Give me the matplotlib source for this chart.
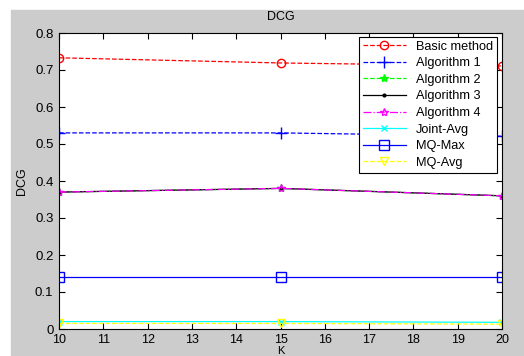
import matplotlib.pyplot as plt
from matplotlib.patches import Rectangle

plt.rcParams['font.family'] = ['Liberation Sans', 'DejaVu Sans']

k = [10, 15, 20]
basic = [0.733, 0.719, 0.711]
alg1 = [0.530, 0.530, 0.521]
alg2 = [0.370, 0.380, 0.360]
alg3 = [0.370, 0.380, 0.360]
alg4 = [0.370, 0.380, 0.360]
joint_avg = [0.020, 0.020, 0.018]
mq_max = [0.140, 0.140, 0.140]
mq_avg = [0.015, 0.015, 0.013]

fig = plt.figure(figsize=(5.24, 3.56), dpi=100, facecolor='white')
# grey matlab-like background
fig.patches.append(Rectangle((11 / 524, 0), 1, (356 - 10) / 356,
                             transform=fig.transFigure, color='#cccccc', zorder=-1))
ax = fig.add_axes([59 / 524, 27 / 356, 443 / 524, 296 / 356])

ax.plot(k, basic, 'r--o', lw=0.9, ms=6, mfc='none', label='Basic method')
ax.plot(k, alg1, 'b--+', lw=0.9, ms=8, label='Algorithm 1')
ax.plot(k, alg2, '--*', color='#00ff00', lw=0.9, ms=6, label='Algorithm 2')
ax.plot(k, alg3, 'k-', marker='.', lw=0.9, ms=4, label='Algorithm 3')
ax.plot(k, alg4, '-.*', color='magenta', lw=0.9, ms=6, mfc='none', label='Algorithm 4')
ax.plot(k, joint_avg, '-x', color='cyan', lw=0.9, ms=5, label='Joint-Avg')
ax.plot(k, mq_max, 'b-s', lw=0.9, ms=7, mfc='none', label='MQ-Max')
ax.plot(k, mq_avg, '--v', color='yellow', lw=0.9, ms=6, mfc='none', label='MQ-Avg')

ax.set_xlim(10, 20)
ax.set_ylim(0, 0.8)
ax.set_xticks(range(10, 21))
ax.set_yticks([0, 0.1, 0.2, 0.3, 0.4, 0.5, 0.6, 0.7, 0.8])
ax.set_yticklabels(['0', '0.1', '0.2', '0.3', '0.4', '0.5', '0.6', '0.7', '0.8'])
ax.tick_params(direction='in', top=True, right=True, labelsize=9.5, length=4)
ax.tick_params(axis='x', pad=3.5, labelsize=9)
ax.tick_params(axis='y', pad=4)
for s in ax.spines.values():
    s.set_linewidth(0.8)

ax.set_title('DCG', fontsize=9, pad=9)
ax.set_xlabel('K', fontsize=8, labelpad=0)
ax.set_ylabel('DCG', fontsize=9, labelpad=5)

leg = ax.legend(loc='upper right', bbox_to_anchor=(0.989, 0.987), fontsize=9.2,
                fancybox=False, framealpha=1, edgecolor='black', borderaxespad=0,
                handlelength=3.4, labelspacing=0.36, borderpad=0.3)
leg.get_frame().set_linewidth(0.8)

fig.savefig('out.png', dpi=100, facecolor=fig.get_facecolor())
